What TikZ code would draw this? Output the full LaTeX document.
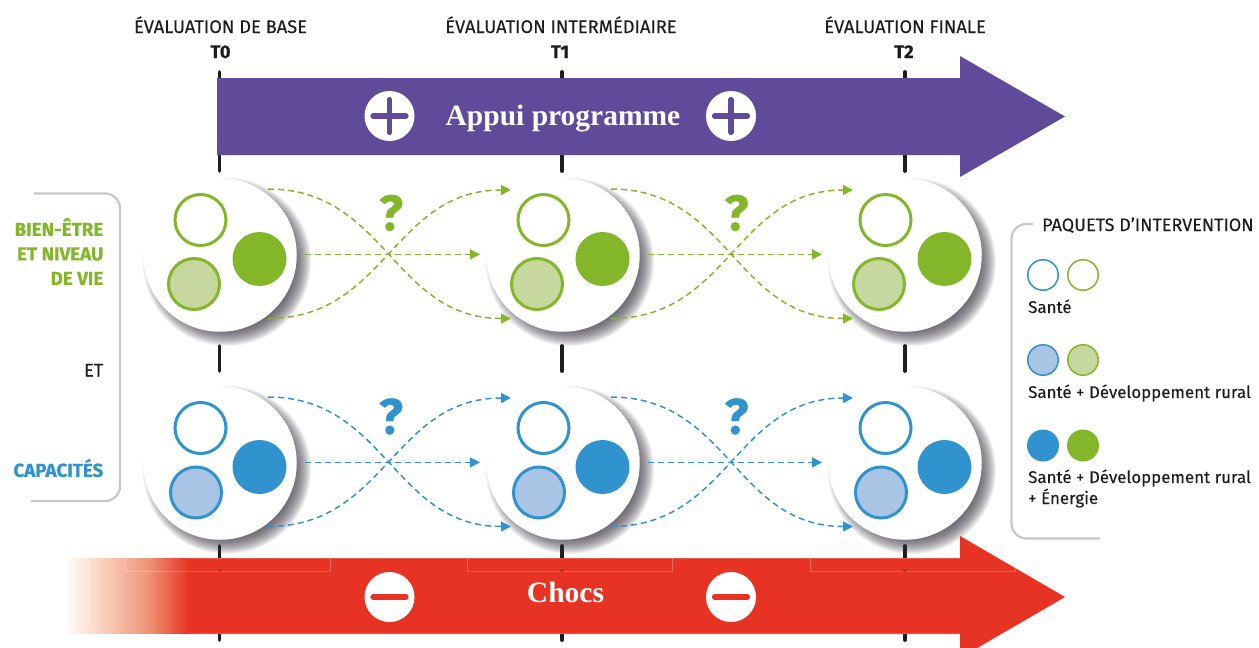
\documentclass[tikz,border=0pt]{standalone}
\usepackage{fontspec}
\setmainfont[FakeBold=0.12]{Fira Sans}
\newfontfamily\boldf[FakeBold=0.5]{Fira Sans Bold}
\newfontfamily\serifname{Liberation Serif Bold}
\usetikzlibrary{arrows.meta,calc}
\definecolor{grn}{HTML}{84B62A}
\definecolor{grnl}{HTML}{C7D89E}
\definecolor{blu}{HTML}{3093CE}
\definecolor{blul}{HTML}{A8C5E6}
\definecolor{purp}{HTML}{5F4B99}
\definecolor{redd}{HTML}{E63323}
\definecolor{ink}{HTML}{1D1D1B}
\definecolor{greyb}{HTML}{C8C8C8}
\definecolor{shad}{HTML}{35313C}
\definecolor{fadea}{HTML}{F9CDB9}
\definecolor{fadeb}{HTML}{EE9073}
\tikzset{
  tick/.style={line width=3.8pt,ink,line cap=round},
  bracket/.style={line width=2.3pt,greyb,rounded corners=15pt},
  bigc/.style={circle,fill=white,minimum size=153.5pt,inner sep=0pt},
  inner/.style={circle,minimum size=#1,inner sep=0pt},
  head/.style={font=\fontsize{18.3}{18.3}\selectfont,ink,anchor=base,inner sep=0pt},
  headb/.style={font=\fontsize{18.3}{18.3}\boldf,ink,anchor=base,inner sep=0pt},
  side/.style={font=\fontsize{18.8}{24.5}\boldf,align=right,anchor=east,inner sep=0pt},
  leg/.style={font=\fontsize{16.9}{21}\selectfont,ink,anchor=base west,align=left,inner sep=0pt},
  sign/.style={circle,fill=white,minimum size=50pt,inner sep=0pt},
  flowline/.style={dash pattern=on 6pt off 4pt,line width=1.5pt,-{Triangle[length=10pt,width=10pt]}},
  flowstraight/.style={dash pattern=on 6pt off 4pt,line width=1.2pt,-{Triangle[length=10pt,width=10pt]}},
  ques/.style={font=\fontsize{50}{50}\boldf,anchor=center,inner sep=0pt},
  title/.style={font=\fontsize{29.5}{29.5}\serifname,text=white,anchor=base,inner sep=0pt},
  symb/.style={line width=5.2pt,line cap=round}
}
\newcommand{\softshadow}[2]{%
  \foreach \k in {0,...,16}{
    \fill[shad,opacity=0.07] ($(#1,#2)+(7,7)$) circle ({84-\k*1.0});
  }}
\begin{document}
\begin{tikzpicture}[x=1pt,y=-1pt]
\useasboundingbox (0,0) rectangle (1259,648);
% ticks
\foreach \x in {219.5,562,905}{
  \draw[tick] (\x,72) -- (\x,171);
  \draw[tick] (\x,346) -- (\x,371);
  \draw[tick] (\x,546) -- (\x,640);
}
% arrows
\fill[purp] (217,78) -- (960,78) -- (960,56) -- (1065,116.5) -- (960,177) -- (960,155) -- (217,155) -- cycle;
\fill[left color=white,right color=fadea] (64,558.3) rectangle (105.5,633.6);
\fill[left color=fadea,right color=fadeb] (105,558.3) rectangle (150.5,633.6);
\fill[left color=fadeb,right color=redd] (150,558.3) rectangle (189,633.6);
\fill[redd] (188.5,558) -- (960,558) -- (960,536) -- (1065,597) -- (960,658) -- (960,634) -- (188.5,634) -- cycle;
\draw[white,opacity=.18,line width=.8pt] (188.5,558.4) -- (960,558.4);
\draw[white,opacity=.18,line width=.8pt] (188.5,633.6) -- (960,633.6);
\foreach \x in {219.5,562,905}{\draw[line width=3.6pt,black!35!redd] (\x,569.5) -- (\x,571.5);}
\foreach \x in {125,467.5,810}{
  \draw[white,opacity=.25,line width=.7pt] (\x,558) -- (\x,571) -- (\x+205,571) -- (\x+205,558);
}
% headings
\node[head] (h0) at (220.5,33) {ÉVALUATION DE BASE};
\node[head] (h1) at (561,33) {ÉVALUATION INTERMÉDIAIRE};
\node[head] (h2) at (905,33) {ÉVALUATION FINALE};
\node[headb] (t0) at (220.5,58) {T0};
\node[headb] (t1) at (560,58) {T1};
\node[headb] (t2) at (904,58) {T2};
% titles and signs
\node[title] (appui) at (563,125) {Appui programme};
\node[title] (chocs) at (565.5,602) {Chocs};
\foreach \x/\n in {389.5/p1,731/p2}{
  \node[sign] (\n) at (\x,116) {};
  \draw[purp,symb] (\x-16.5,116) -- (\x+16.5,116);
  \draw[purp,symb] (\x,99.5) -- (\x,132.5);
}
\foreach \x/\n in {389.5/m1,731/m2}{
  \node[sign] (\n) at (\x,597) {};
  \draw[redd,symb] (\x-16.5,597) -- (\x+16.5,597);
}
% shadows and circles
\foreach \x in {220,563,905}{\softshadow{\x}{255}\softshadow{\x}{463}}
\foreach \x/\n in {220/A,563/B,905/C}{
  \node[bigc] (\n u) at (\x,255) {};
  \node[inner=51pt,draw=grn,line width=3pt,fill=white] (\n ua) at ($(\n u)+(-19.5,-35)$) {};
  \node[inner=54pt,fill=grn] (\n ub) at ($(\n u)+(39.5,4)$) {};
  \node[inner=51pt,draw=grn,line width=3pt,fill=grnl] (\n ul) at ($(\n u)+(-26,29)$) {};
  \node[bigc] (\n d) at (\x,463) {};
  \node[inner=51pt,draw=blu,line width=3pt,fill=white] (\n da) at ($(\n d)+(-19.5,-35)$) {};
  \node[inner=54pt,fill=blu] (\n db) at ($(\n d)+(39.5,4)$) {};
  \node[inner=51pt,draw=blu,line width=3pt,fill=blul] (\n dl) at ($(\n d)+(-24,29.5)$) {};
}
% connectors
\foreach \fr/\to/\cc in {Au/Bu/grn,Bu/Cu/grn,Ad/Bd/blu,Bd/Cd/blu}{
  \coordinate (s1) at ($(\fr)+(48,-66)$);
  \coordinate (s2) at ($(\fr)+(85,-0.6)$);
  \coordinate (s3) at ($(\fr)+(48,63.5)$);
  \coordinate (e1) at ($(\to)+(-52,-65)$);
  \coordinate (e2) at ($(\to)+(-83,-0.6)$);
  \coordinate (e3) at ($(\to)+(-52,63.5)$);
  \draw[flowline,draw=\cc] (s1) .. controls ($(s1)+(118,0)$) and ($(e3)+(-118,0)$) .. (e3);
  \draw[flowline,draw=\cc] (s3) .. controls ($(s3)+(118,0)$) and ($(e1)+(-118,0)$) .. (e1);
  \draw[flowstraight,draw=\cc] (s2) -- (e2);
}
\node[ques,text=grn] (q1) at (391,213) {?};
\node[ques,text=grn] (q2) at (736.5,213) {?};
\node[ques,text=blu] (q3) at (391,416.5) {?};
\node[ques,text=blu] (q4) at (736.5,416.5) {?};
% left bracket
\draw[bracket] (34,193.5) -- (120,193.5) -- (120,501) -- (31,501);
\node[side,text=grn] (bien) at (103.5,251.5) {BIEN-ÊTRE\\ET NIVEAU\\DE VIE};
\node[head,anchor=base east] (et) at (103.5,376.5) {ET};
\node[side,text=blu] (cap) at (103.5,468) {CAPACITÉS};
% right bracket
\draw[bracket] (1033,224) -- (1011.5,224) -- (1011.5,538.5) -- (1100,538.5);
\node[head,anchor=base west,font=\fontsize{18}{18}\selectfont] (pq) at (1042,231) {PAQUETS D’INTERVENTION};
\foreach \y/\n/\fa/\fb/\db/\dg in {275/l1/white/white/blu/grn,360/l2/blul/grnl/blu/grn,445.5/l3/blu/grn/blu/grn}{
  \node[inner=30.5pt,draw=\db,line width=1.5pt,fill=\fa] (\n a) at (1043,\y) {};
  \node[inner=30.5pt,draw=\dg,line width=1.5pt,fill=\fb] (\n b) at (1083,\y) {};
}
\node[leg] (s1t) at (1028,313) {Santé};
\node[leg] (s2t) at (1028,398) {Santé + Développement rural};
\node[leg] (s3t) at (1028,483) {Santé + Développement rural};
\node[leg] (s4t) at (1028,504) {+ Énergie};
\end{tikzpicture}
\end{document}
